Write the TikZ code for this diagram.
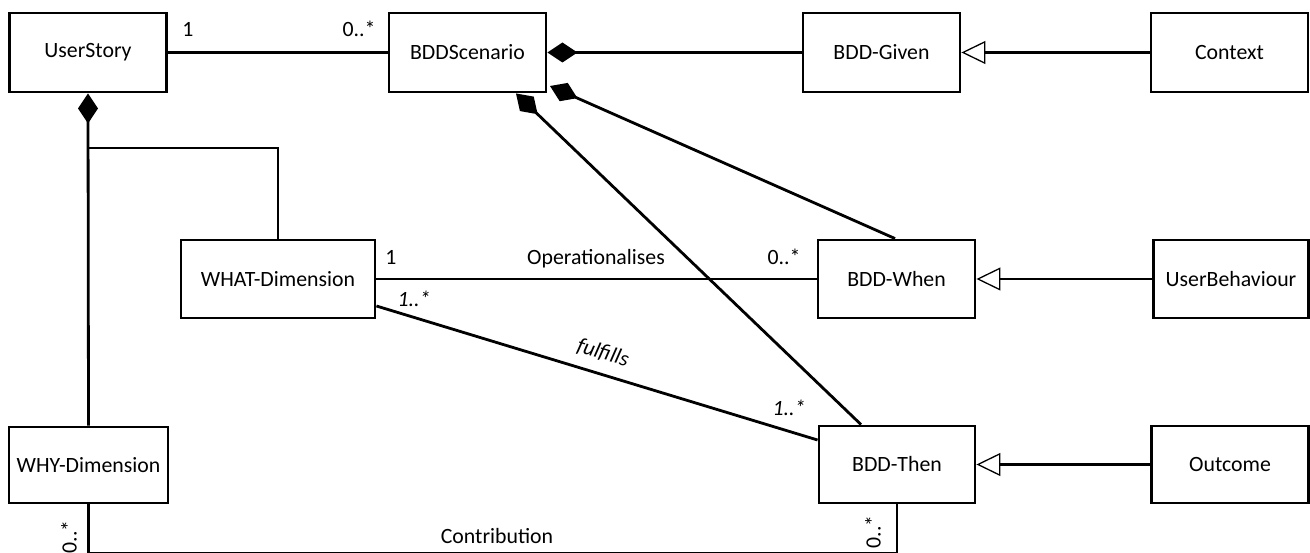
\documentclass[tikz,border=0pt]{standalone}
\usepackage{fontspec}
\setmainfont{Carlito}
\usetikzlibrary{arrows.meta}
\begin{document}
\begin{tikzpicture}[x=1pt,y=-1pt,
  box/.style={draw, line width=2.9pt, inner sep=0pt, minimum width=157pt, minimum height=78pt, font=\fontsize{21.8}{26}\selectfont},
  conn/.style={line width=2.8pt},
  lbl/.style={font=\fontsize{21.8}{26}\selectfont, inner sep=0pt},
  ilbl/.style={font=\fontsize{21.8}{26}\selectfont\itshape, inner sep=0pt},
  comp/.style={-{Diamond[length=30pt,width=20pt]}},
  gen/.style={-{Triangle[open,length=24pt,width=23pt,line width=1.3pt,fill=white]}}
]
\useasboundingbox (0,0) rectangle (1310,553);
% nodes
\node[box, minimum height=79pt] (UserStory) at (88,52.5) {UserStory};
\node[box, minimum height=79pt] (BDDScenario) at (467.5,52.5) {BDDScenario};
\node[box, minimum height=79pt] (BDDGiven) at (881.5,52.5) {BDD-Given};
\node[box, minimum height=79pt] (Context) at (1229.5,52.5) {Context};
\node[box, minimum width=194pt] (WHAT) at (278,279) {WHAT-Dimension};
\node[box] (BDDWhen) at (896.5,279) {BDD-When};
\node[box, minimum width=155pt] (UserBehaviour) at (1231,279) {UserBehaviour};
\node[box, minimum width=159pt, minimum height=76pt] (WHY) at (88.5,465) {WHY-Dimension};
\node[box, minimum width=156pt, minimum height=77pt] (BDDThen) at (897,464.5) {BDD-Then};
\node[box, minimum height=77pt] (Outcome) at (1230,464.5) {Outcome};
% coordinates
\coordinate (j) at (88,148);
\coordinate (wtip) at (550,86);
\coordinate (b) at (88,553.5);
% connectors
\draw[conn] (UserStory.east) -- (BDDScenario.west);
\draw[conn,comp] (BDDGiven.west) -- (BDDScenario.east);
\draw[conn,gen] (Context.west) -- (BDDGiven.east);
\draw[conn,gen] (UserBehaviour.west) -- (BDDWhen.east);
\draw[conn,gen] (Outcome.west) -- (BDDThen.east);
\draw[conn] (WHAT.east) -- (BDDWhen.west);
\draw[conn,comp] (WHY.north) -- (UserStory.south);
\draw[conn] (WHAT.north) |- (j);
\draw[conn,comp] ([xshift=-36pt]BDDThen.north) -- ([xshift=48.5pt]BDDScenario.south);
\draw[conn,comp] ([xshift=-1.5pt]BDDWhen.north) -- (wtip);
\draw[conn] ([yshift=-27pt]WHAT.east) -- ([yshift=24.5pt]BDDThen.west);
\draw[conn] (WHY.south) -- (WHY.south |- b) -| (BDDThen.south);
% labels
\node[lbl, anchor=base] (m1) at (188,37) {1};
\node[lbl, anchor=base] (m2) at (359,37) {0..*};
\node[lbl, anchor=base] (m3) at (391,265) {1};
\node[lbl, anchor=base] (op) at (596,265) {Operationalises};
\node[lbl, anchor=base] (m4) at (784,265) {0..*};
\node[ilbl, anchor=base] (m5) at (414,307) {1..*};
\node[ilbl, rotate=-16.8] (ff) at (603,353) {fulfills};
\node[ilbl, anchor=base] (m6) at (789,416) {1..*};
\node[lbl, anchor=base] (ct) at (497,543) {Contribution};
\node[lbl, rotate=90] (m7) at (69,537) {0..*};
\node[lbl, rotate=90] (m8) at (873,532) {0..*};
\end{tikzpicture}
\end{document}
